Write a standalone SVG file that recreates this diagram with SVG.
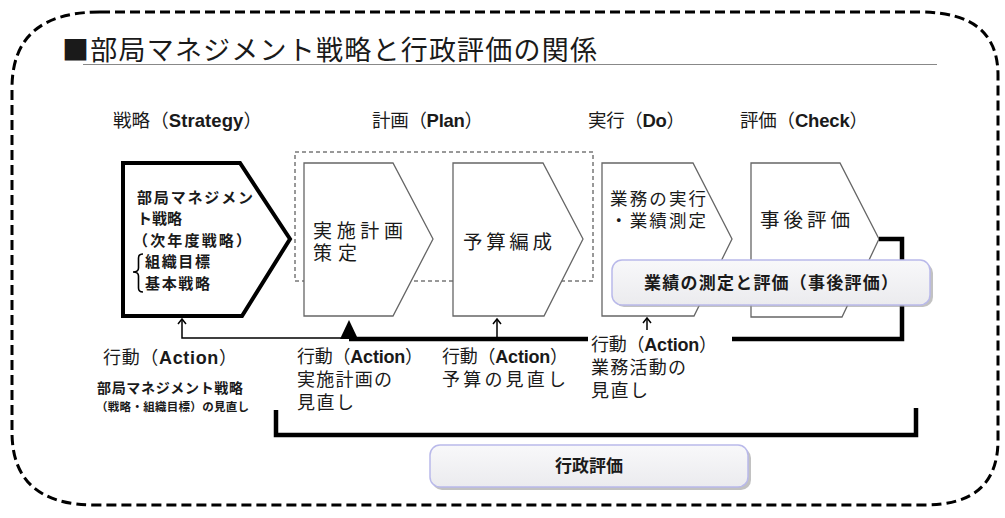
<svg xmlns="http://www.w3.org/2000/svg" width="1005" height="518" viewBox="0 0 1005 518">
<style>
text{font-family:"Liberation Sans","Noto Sans CJK JP",sans-serif;fill:#1a1a1a}
.jp{font-family:"Noto Sans CJK JP",sans-serif}
.b{font-weight:bold}
.hdr{font-size:18.5px}
.act{font-size:18px}
.step{fill:#fff;stroke:#666;stroke-width:1.3}
.box{fill:url(#g);stroke:#b9b9ea;stroke-width:1.5}
.shadow{fill:#9a9a9a;opacity:0.6}
.thick{fill:none;stroke:#000;stroke-width:4.5;stroke-linejoin:miter}
.thin{fill:none;stroke:#000;stroke-width:1.5}
</style>
<defs>
<linearGradient id="g" x1="0" y1="0" x2="0" y2="1">
<stop offset="0" stop-color="#f8f8fa"/>
<stop offset="1" stop-color="#ebebee"/>
</linearGradient>
<marker id="ah" markerWidth="8" markerHeight="10" refX="6" refY="4" orient="auto" markerUnits="userSpaceOnUse" overflow="visible">
<path d="M1,0 L6,4 L1,8" fill="none" stroke="#000" stroke-width="1.5"/>
</marker>
</defs>
<rect width="1005" height="518" fill="#fff"/>
<g id="frame">
<path d="M100,12 H920 Q998,12 998,75 V440 Q998,505 925,505 H95 Q12,505 12,432 V88 Q12,12 100,12 Z" fill="none" stroke="#000" stroke-width="3" stroke-dasharray="10 5"/>
</g>
<g id="title">
<text class="jp" x="62" y="60" font-size="27" textLength="535" lengthAdjust="spacing">■部局マネジメント戦略と行政評価の関係</text>
<line x1="83" y1="64.5" x2="937" y2="64.5" stroke="#888" stroke-width="1"/>
</g>
<g id="headers">
<text class="hdr" x="113" y="127" textLength="149" lengthAdjust="spacing">戦略（<tspan class="b">Strategy</tspan>）</text>
<text class="hdr" x="372" y="127" textLength="111" lengthAdjust="spacing">計画（<tspan class="b">Plan</tspan>）</text>
<text class="hdr" x="588" y="127" textLength="97" lengthAdjust="spacing">実行（<tspan class="b">Do</tspan>）</text>
<text class="hdr" x="740" y="127" textLength="128" lengthAdjust="spacing">評価（<tspan class="b">Check</tspan>）</text>
</g>
<g id="plan-group">
<rect x="295" y="152" width="298" height="129" fill="none" stroke="#333" stroke-width="1" stroke-dasharray="4 3"/>
</g>
<g id="node-strategy">
<polygon points="123,163 240,163 290,239 242,316 123,316" fill="#fff" stroke="#000" stroke-width="4"/>
<text class="jp b" font-size="15"><tspan x="137" y="203" textLength="116" lengthAdjust="spacing">部局マネジメン</tspan><tspan x="137" y="224">ト戦略</tspan><tspan x="133" y="246" textLength="118" lengthAdjust="spacing">（次年度戦略）</tspan><tspan x="145" y="267" textLength="65" lengthAdjust="spacing">組織目標</tspan><tspan x="145" y="289" textLength="65" lengthAdjust="spacing">基本戦略</tspan></text>
<path d="M143,254 Q138.5,254 138.5,258 V268 Q138.5,272 133,272 Q138.5,272 138.5,276 V288 Q138.5,292 143,292" fill="none" stroke="#000" stroke-width="1.6"/>
</g>
<g id="node-plan">
<polygon class="step" points="304,163 393,163 433,239 393,316 304,316"/>
<text class="jp" font-size="19"><tspan x="313" y="238" textLength="90" lengthAdjust="spacing">実施計画</tspan><tspan x="313" y="260" textLength="44" lengthAdjust="spacing">策定</tspan></text>
</g>
<g id="node-budget">
<polygon class="step" points="453,163 543,163 583,239 544,316 453,316"/>
<text class="jp" x="463" y="249" font-size="19.5" textLength="89" lengthAdjust="spacing">予算編成</text>
</g>
<g id="node-do">
<polygon class="step" points="602,163 693,163 732,239 694,316 602,316"/>
<text class="jp" font-size="17.5"><tspan x="610" y="205" textLength="96" lengthAdjust="spacing">業務の実行</tspan><tspan x="610" y="227" textLength="96" lengthAdjust="spacing">・業績測定</tspan></text>
</g>
<g id="node-check">
<polygon class="step" points="751,163 840,163 879,239 842,317 751,317"/>
<text class="jp" x="760" y="227" font-size="19.5" textLength="90" lengthAdjust="spacing">事後評価</text>
</g>
<g id="connectors">
<path class="thick" d="M879,239 H902 V339 H732"/>
<path class="thick" d="M588,339 H349"/>
<polygon points="340,339 349,320 358,339" fill="#000"/>
<path class="thin" d="M349,338 H182 V319" marker-end="url(#ah)"/>
<path class="thin" d="M497,338 V319" marker-end="url(#ah)"/>
<path class="thin" d="M647,330 V318" marker-end="url(#ah)"/>
<path class="thick" d="M276,410 V435 H916 V408"/>
</g>
<g id="box-perf">
<rect class="shadow" x="614" y="263" width="319" height="44" rx="10"/>
<rect class="box" x="612" y="260" width="318" height="45" rx="10"/>
<text class="jp b" x="771" y="289" font-size="17" text-anchor="middle" textLength="254" lengthAdjust="spacing">業績の測定と評価（事後評価）</text>
</g>
<g id="box-admin">
<rect class="shadow" x="432" y="448" width="319" height="42" rx="10"/>
<rect class="box" x="430" y="445" width="318" height="42" rx="10"/>
<text class="jp b" x="589" y="472" font-size="17" text-anchor="middle">行政評価</text>
</g>
<g id="labels">
<text class="act" x="103" y="364" textLength="134" lengthAdjust="spacing">行動（<tspan class="b">Action</tspan>）</text>
<text class="jp b"><tspan x="97" y="393" font-size="14" textLength="146" lengthAdjust="spacing">部局マネジメント戦略</tspan><tspan x="96" y="411" font-size="11.5" textLength="153" lengthAdjust="spacing">（戦略・組織目標）の見直し</tspan></text>
<text class="act"><tspan x="297" y="363" textLength="126" lengthAdjust="spacing">行動（<tspan class="b">Action</tspan>）</tspan><tspan class="jp" x="297" y="386" textLength="95" lengthAdjust="spacing">実施計画の</tspan><tspan class="jp" x="297" y="409" textLength="57" lengthAdjust="spacing">見直し</tspan></text>
<text class="act"><tspan x="442" y="363" textLength="126" lengthAdjust="spacing">行動（<tspan class="b">Action</tspan>）</tspan><tspan class="jp" x="442" y="386" textLength="124" lengthAdjust="spacing">予算の見直し</tspan></text>
<text class="act"><tspan x="591" y="351" textLength="126" lengthAdjust="spacing">行動（<tspan class="b">Action</tspan>）</tspan><tspan class="jp" x="591" y="374" textLength="95" lengthAdjust="spacing">業務活動の</tspan><tspan class="jp" x="591" y="397" textLength="57" lengthAdjust="spacing">見直し</tspan></text>
</g>
</svg>
